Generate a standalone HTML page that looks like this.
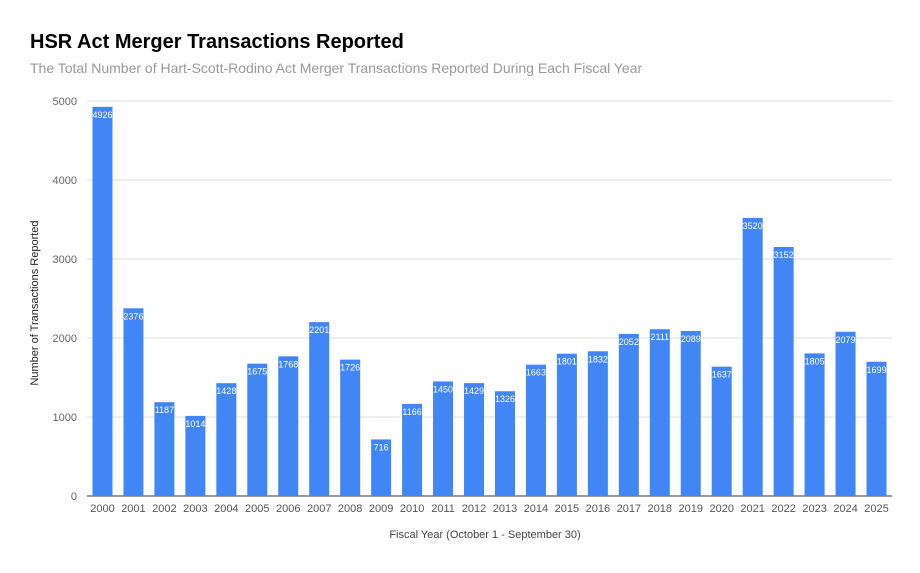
<!DOCTYPE html>
<html><head><meta charset="utf-8"><style>
body{margin:0;background:#fff;font-family:"Liberation Sans",Arial,sans-serif}
</style></head><body>
<svg width="920" height="568" viewBox="0 0 920 568" xmlns="http://www.w3.org/2000/svg">
<text x="30" y="48" font-size="20" font-weight="bold" fill="#000">HSR Act Merger Transactions Reported</text>
<text x="30" y="73" font-size="14" fill="#999">The Total Number of Hart-Scott-Rodino Act Merger Transactions Reported During Each Fiscal Year</text>
<g id="grid"></g><g id="bars"></g><g id="xlabels"></g>
<text x="485" y="538" font-size="11" fill="#444" text-anchor="middle">Fiscal Year (October 1 - September 30)</text>
<text transform="translate(38,303) rotate(-90)" font-size="11" fill="#222" text-anchor="middle">Number of Transactions Reported</text>
</svg>
<script>
const years=["2000","2001","2002","2003","2004","2005","2006","2007","2008","2009","2010","2011","2012","2013","2014","2015","2016","2017","2018","2019","2020","2021","2022","2023","2024","2025"];
const values=[4926,2376,1187,1014,1428,1675,1768,2201,1726,716,1166,1450,1429,1326,1663,1801,1832,2052,2111,2089,1637,3520,3152,1805,2079,1699];
const yTicks=[0,1000,2000,3000,4000,5000];
const NS="http://www.w3.org/2000/svg";
const L=87,R=892,T=101,B=496,ymax=5000;
const y=v=>B-(v/ymax)*(B-T);
const step=(R-L)/years.length;
const x=i=>L+step*(i+0.5);
function mk(t,a,p){const e=document.createElementNS(NS,t);for(const k in a)e.setAttribute(k,a[k]);p.appendChild(e);return e;}
const g=document.getElementById('grid'),b=document.getElementById('bars'),xl=document.getElementById('xlabels');
yTicks.forEach(t=>{
 const ln=mk('line',{x1:L,x2:R,y1:y(t),y2:y(t),stroke:t===0?'#333':'#ddd','stroke-width':1},g);
 
 
 const tx=mk('text',{x:77,y:y(t)+4,'font-size':11,fill:'#666','text-anchor':'end'},g);
 tx.textContent=t;
 
 
});
values.forEach((v,i)=>{
 const w=20;
 const r=mk('rect',{x:x(i)-w/2,y:y(v),width:w,height:B-y(v),fill:'#4285f4'},b);
 
 
 const lt=mk('text',{x:x(i),y:y(v)+11,'font-size':9,fill:'#fff','text-anchor':'middle'},b);
 lt.textContent=v;
 
 
 const xt=mk('text',{x:x(i),y:512,'font-size':11,fill:'#555','text-anchor':'middle'},xl);
 xt.textContent=years[i];
 
 
});
</script>
</body></html>
